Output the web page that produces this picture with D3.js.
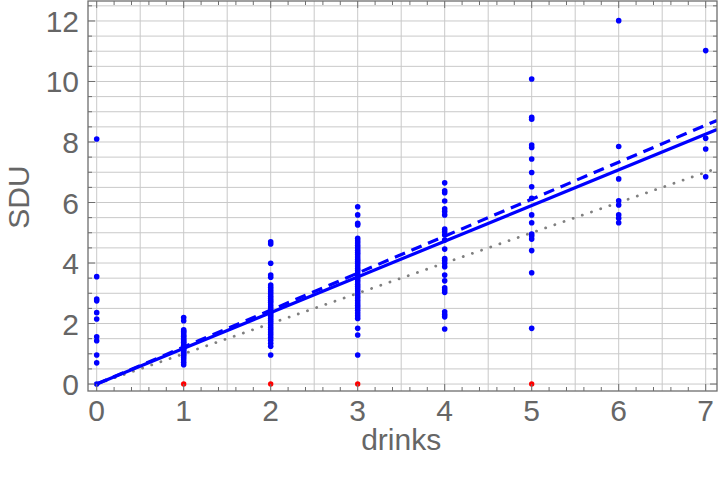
<!DOCTYPE html>
<html><head><meta charset="utf-8">
<script src="https://cdn.jsdelivr.net/npm/d3@7"></script>
<style>body{margin:0;background:#fff}svg{display:block}</style>
</head><body>
<svg id="chart" width="720" height="478"></svg>
<script>
// ---- data ----
const drinkLevels = [0, 1, 2, 3, 4, 5, 6, 7];
const sdu0 = [8.10, 3.55, 2.81, 2.75, 2.36, 2.15, 1.56, 1.43, 0.96, 0.70, 0.0];
const sdu1 = [2.20, 2.09, 1.79, 1.74, 1.69, 1.62, 1.58, 1.52, 1.47, 1.42, 1.38, 1.33, 1.28, 1.24, 1.19, 1.14, 1.10, 1.05, 1.00, 0.95, 0.88, 0.80, 0.72, 0.64];
const sdu2 = [4.70, 4.63, 3.99, 3.60, 3.53, 3.27, 3.20, 3.12, 3.05, 2.98, 2.90, 2.83, 2.76, 2.70, 2.62, 2.55, 2.48, 2.42, 2.36, 2.30, 2.24, 2.17, 2.10, 2.03, 1.96, 1.88, 1.80, 1.72, 1.64, 1.55, 1.45, 1.35, 1.25, 0.96];
const sdu3 = [5.86, 5.59, 5.31, 5.26, 4.82, 4.74, 4.66, 4.58, 4.50, 4.42, 4.35, 4.28, 4.20, 4.12, 4.05, 3.98, 3.90, 3.82, 3.75, 3.68, 3.60, 3.52, 3.45, 3.38, 3.30, 3.22, 3.15, 3.08, 3.00, 2.92, 2.84, 2.76, 2.68, 2.60, 2.52, 2.44, 2.35, 2.26, 2.17, 1.84, 1.62, 0.96];
const sdu4 = [6.65, 6.39, 6.32, 6.05, 5.79, 5.70, 5.59, 5.12, 5.03, 4.93, 4.76, 4.46, 4.15, 4.08, 3.99, 3.88, 3.60, 3.41, 3.18, 3.11, 3.03, 2.39, 2.30, 2.22, 1.82];
const sdu5 = [10.08, 8.82, 8.75, 7.90, 7.82, 7.44, 6.99, 6.52, 6.14, 5.59, 5.33, 4.96, 4.89, 4.79, 4.41, 3.68, 1.84];
const sdu6 = [12.01, 7.85, 6.78, 6.06, 5.92, 5.59, 5.48, 5.33];
const sdu7 = [11.02, 8.12, 7.77, 6.85];
const sduByDrinks = [sdu0, sdu1, sdu2, sdu3, sdu4, sdu5, sdu6, sdu7];
const excludedDrinks = [1, 2, 3, 5];   // red points at SDU = 0
const excludedSdu = [0, 0, 0, 0];
const fitSolidSlope = 1.18;
const fitDashedSlope = 1.222;
const refSlope = 1.0;
const xTickLabels = [0, 1, 2, 3, 4, 5, 6, 7];
const yTickLabels = [0, 2, 4, 6, 8, 10, 12];

// ---- layout ----
const svg = d3.select("#chart");
const L = 88, R = 717, T = 1, B = 391;
const x = d3.scaleLinear().domain([-0.1, 7.13]).range([L, R]);
const y = d3.scaleLinear().domain([-0.23, 12.66]).range([B, T]);

const gridColor = "#c9c9c9", frameColor = "#6e6e6e", textColor = "#666666";
const font = "'Liberation Sans', Arial, sans-serif";
const fs = 30;

// grid lines every 0.5
const gx = d3.range(0, 7.01, 0.5), gy = d3.range(0, 12.51, 0.5);
svg.append("g").selectAll("line").data(gx).join("line")
  .attr("x1", d => x(d)).attr("x2", d => x(d)).attr("y1", T).attr("y2", B)
  .attr("stroke", gridColor).attr("stroke-width", 1);
svg.append("g").selectAll("line").data(gy).join("line")
  .attr("x1", L).attr("x2", R).attr("y1", d => y(d)).attr("y2", d => y(d))
  .attr("stroke", gridColor).attr("stroke-width", 1);

// fit lines
svg.append("clipPath").attr("id", "clip").append("rect")
  .attr("x", L).attr("y", T).attr("width", R - L).attr("height", B - T);
const lineG = svg.append("g").attr("clip-path", "url(#clip)");
const xEnd = 7.13;
function addLine(slope, color, width, dash, cap) {
  lineG.append("line")
    .attr("x1", x(0)).attr("y1", y(0)).attr("x2", x(xEnd)).attr("y2", y(slope * xEnd))
    .attr("stroke", color).attr("stroke-width", width)
    .attr("stroke-dasharray", dash).attr("stroke-linecap", cap);
}
addLine(refSlope, "#808080", 2.8, "0.1,9.6", "round");
addLine(fitDashedSlope, "#0000ff", 3.2, "11,7", "butt");
addLine(fitSolidSlope, "#0000ff", 3.2, null, "butt");

// points
const pts = [];
sduByDrinks.forEach((arr, i) => arr.forEach(v => pts.push([drinkLevels[i], v])));
lineG.append("g").selectAll("circle").data(pts).join("circle")
  .attr("cx", d => x(d[0])).attr("cy", d => y(d[1])).attr("r", 2.8).attr("fill", "#0000ff");
lineG.append("g").selectAll("circle").data(excludedDrinks.map((d, i) => [d, excludedSdu[i]])).join("circle")
  .attr("cx", d => x(d[0])).attr("cy", d => y(d[1])).attr("r", 2.7).attr("fill", "#ff0000");

// frame
svg.append("rect").attr("x", L).attr("y", T).attr("width", R - L).attr("height", B - T)
  .attr("fill", "none").attr("stroke", frameColor).attr("stroke-width", 1.3);

// ticks (inward, all four sides)
const xMinor = d3.range(0, 7.01, 0.2).filter(v => Math.abs(v - Math.round(v)) > 1e-6);
const yMinor = d3.range(0, 12.51, 0.5).filter(v => v % 2 !== 0);
const tg = svg.append("g").attr("stroke", frameColor).attr("stroke-width", 1);
xTickLabels.forEach(v => {
  tg.append("line").attr("x1", x(v)).attr("x2", x(v)).attr("y1", B).attr("y2", B - 7);
  tg.append("line").attr("x1", x(v)).attr("x2", x(v)).attr("y1", T).attr("y2", T + 7);
});
xMinor.forEach(v => {
  tg.append("line").attr("x1", x(v)).attr("x2", x(v)).attr("y1", B).attr("y2", B - 4);
  tg.append("line").attr("x1", x(v)).attr("x2", x(v)).attr("y1", T).attr("y2", T + 4);
});
yTickLabels.forEach(v => {
  tg.append("line").attr("x1", L).attr("x2", L + 7).attr("y1", y(v)).attr("y2", y(v));
  tg.append("line").attr("x1", R).attr("x2", R - 7).attr("y1", y(v)).attr("y2", y(v));
});
yMinor.forEach(v => {
  tg.append("line").attr("x1", L).attr("x2", L + 4).attr("y1", y(v)).attr("y2", y(v));
  tg.append("line").attr("x1", R).attr("x2", R - 4).attr("y1", y(v)).attr("y2", y(v));
});

// tick labels
svg.append("g").selectAll("text").data(xTickLabels).join("text")
  .attr("x", d => x(d)).attr("y", B + 30).attr("text-anchor", "middle")
  .attr("font-family", font).attr("font-size", fs).attr("fill", textColor).text(d => d);
svg.append("g").selectAll("text").data(yTickLabels).join("text")
  .attr("x", 79).attr("y", d => y(d) + 11).attr("text-anchor", "end")
  .attr("font-family", font).attr("font-size", fs).attr("fill", textColor).text(d => d);

// axis labels
svg.append("text").attr("x", x(3.5)).attr("y", 450).attr("text-anchor", "middle")
  .attr("font-family", font).attr("font-size", fs).attr("fill", textColor).text("drinks");
svg.append("text").attr("transform", `translate(29,197) rotate(-90)`).attr("text-anchor", "middle")
  .attr("font-family", font).attr("font-size", fs).attr("fill", textColor).text("SDU");
</script>
</body></html>
